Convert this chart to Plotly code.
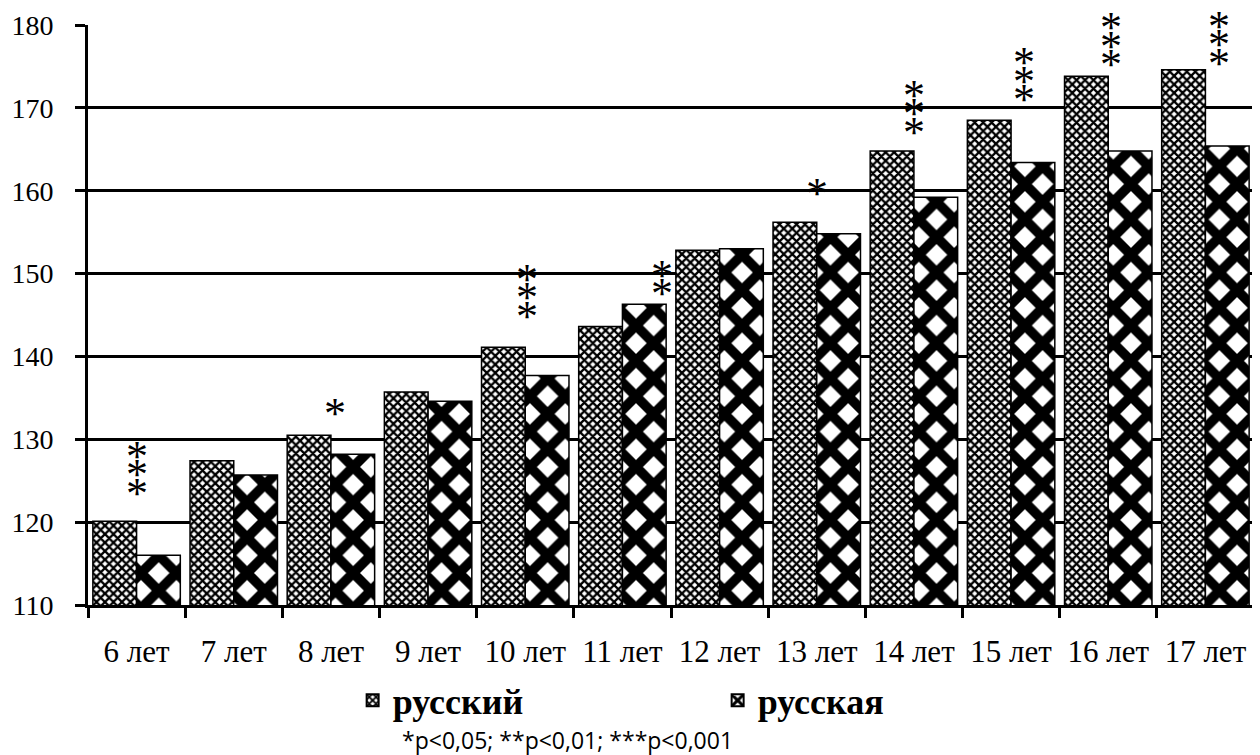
import plotly.graph_objects as go

categories = ["6 лет", "7 лет", "8 лет", "9 лет", "10 лет", "11 лет",
              "12 лет", "13 лет", "14 лет", "15 лет", "16 лет", "17 лет"]
russkiy = [120.1, 127.4, 130.5, 135.7, 141.1, 143.6, 152.8, 156.2, 164.8, 168.5, 173.8, 174.6]
russkaya = [116.0, 125.7, 128.2, 134.6, 137.7, 146.3, 153.0, 154.8, 159.2, 163.4, 164.8, 165.4]

y_ticks = [110, 120, 130, 140, 150, 160, 170, 180]

# significance marks: category index, number of stars, lowest-star level, horizontal offset
star_idx = [0, 2, 4, 5, 7, 8, 9, 10, 11]
star_count = [3, 1, 3, 2, 1, 3, 3, 3, 3]
star_bottom = [124.2, 133.8, 145.6, 148.3, 160.4, 167.8, 171.7, 175.9, 176.1]
star_dx = [0.0, 0.04, 0.02, 0.41, 0.0, 0.0, 0.13, 0.03, 0.14]

footnote = "*p<0,05; **p<0,01; ***p<0,001"

SERIF = "Liberation Serif, Times New Roman, serif"

fig = go.Figure()
fig.add_trace(go.Bar(
    x=categories, y=russkiy, name="русский",
    marker=dict(color="white", line=dict(color="black", width=1.5),
                pattern=dict(shape="x", size=6, solidity=0.62,
                             fgcolor="black", bgcolor="white", fgopacity=1,
                             fillmode="replace")),
))
fig.add_trace(go.Bar(
    x=categories, y=russkaya, name="русская",
    marker=dict(color="white", line=dict(color="black", width=1.5),
                pattern=dict(shape="x", size=25, solidity=0.63,
                             fgcolor="black", bgcolor="white", fgopacity=1,
                             fillmode="replace")),
))

annotations = []
for i, n, yb, dx in zip(star_idx, star_count, star_bottom, star_dx):
    for k in range(n):
        annotations.append(dict(
            x=i + dx, y=yb, xref="x", yref="y", text="*", showarrow=False,
            yshift=k * 18.5 - 6, font=dict(family=SERIF, size=44, color="black"),
        ))
annotations.append(dict(
    x=(567 - 88) / 1166, y=-(732 - 597) / 580, xref="paper", yref="paper",
    text=footnote, showarrow=False, xanchor="center", yanchor="middle",
    font=dict(family="Open Sans", size=23, color="black"),
))

fig.update_layout(
    width=1252, height=747,
    margin=dict(l=80, r=6, t=17, b=150),
    paper_bgcolor="white", plot_bgcolor="white",
    barmode="group", bargap=0.1, bargroupgap=0,
    font=dict(family=SERIF, color="black"),
    showlegend=True,
    legend=dict(orientation="h", x=0.54, xanchor="center", y=0.073, yanchor="middle",
                yref="container", entrywidth=320,
                font=dict(family=SERIF, size=36, color="black", weight="bold"),
                itemsizing="constant"),
    annotations=annotations,
)
fig.update_xaxes(
    automargin=False,
    showline=True, linecolor="black", linewidth=3,
    ticks="outside", tickson="boundaries", ticklen=10, tickwidth=3, tickcolor="black",
    ticklabelstandoff=17,
    tickfont=dict(family=SERIF, size=31, color="black"),
    showgrid=False,
)
fig.update_yaxes(
    automargin=False,
    range=[110, 180], tickvals=y_ticks,
    showline=True, linecolor="black", linewidth=3,
    ticks="outside", ticklen=10, tickwidth=3, tickcolor="black",
    ticklabelstandoff=16,
    tickfont=dict(family=SERIF, size=28, color="black"),
    showgrid=True, gridcolor="black", gridwidth=3, zeroline=False,
)

fig.write_html("out.html")
